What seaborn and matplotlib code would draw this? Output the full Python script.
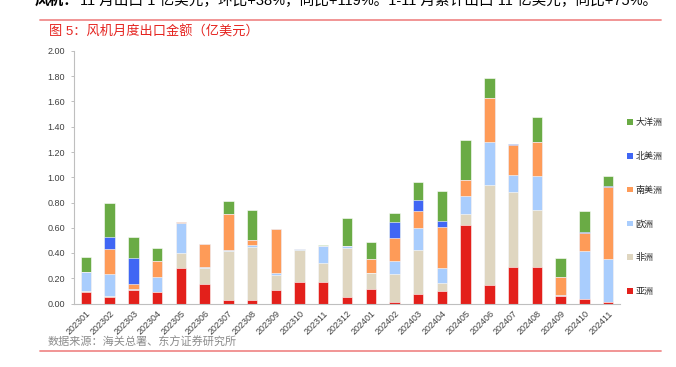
import numpy as np
import pandas as pd
import seaborn as sns
import matplotlib.pyplot as plt
from matplotlib.patches import Patch

months = ['202301', '202302', '202303', '202304', '202305', '202306', '202307', '202308',
          '202309', '202310', '202311', '202312', '202401', '202402', '202403', '202404',
          '202405', '202406', '202407', '202408', '202409', '202410', '202411']

# values in 亿美元
asia = [0.095, 0.055, 0.105, 0.090, 0.278, 0.155, 0.025, 0.030, 0.105, 0.173, 0.170, 0.055,
        0.115, 0.008, 0.073, 0.102, 0.620, 0.150, 0.287, 0.287, 0.060, 0.037, 0.013]
africa = [0.005, 0.005, 0.005, 0.0, 0.120, 0.128, 0.390, 0.420, 0.120, 0.250, 0.152, 0.385,
          0.127, 0.228, 0.350, 0.058, 0.092, 0.786, 0.596, 0.454, 0.0, 0.0, 0.0]
europe = [0.150, 0.175, 0.005, 0.117, 0.243, 0.010, 0.005, 0.010, 0.020, 0.012, 0.130, 0.015,
          0.0, 0.100, 0.175, 0.123, 0.142, 0.347, 0.134, 0.271, 0.006, 0.381, 0.339]
s_america = [0.0, 0.195, 0.040, 0.130, 0.005, 0.175, 0.285, 0.045, 0.345, 0.0, 0.0, 0.0,
             0.113, 0.184, 0.132, 0.323, 0.121, 0.347, 0.242, 0.268, 0.144, 0.139, 0.571]
n_america = [0.0, 0.095, 0.205, 0.0, 0.0, 0.0, 0.0, 0.0, 0.0, 0.0, 0.0, 0.0,
             0.0, 0.128, 0.086, 0.050, 0.0, 0.0, 0.008, 0.0, 0.0, 0.006, 0.008]
oceania = [0.115, 0.270, 0.170, 0.105, 0.0, 0.0, 0.110, 0.235, 0.0, 0.0, 0.008, 0.225,
           0.130, 0.072, 0.144, 0.236, 0.324, 0.155, 0.0, 0.195, 0.150, 0.173, 0.081]

regions = ['亚洲', '非洲', '欧洲', '南美洲', '北美洲', '大洋洲']
colors = ['#e3201b', '#dfd6c0', '#a9cdfd', '#fe9b58', '#4066f4', '#6aab45']

df = pd.DataFrame({'month': months, '亚洲': asia, '非洲': africa, '欧洲': europe,
                   '南美洲': s_america, '北美洲': n_america, '大洋洲': oceania})
cum = df[regions].cumsum(axis=1)
cum['month'] = months

sns.set_style('white')
plt.rcParams['font.family'] = ['Liberation Sans', 'Noto Sans CJK SC', 'DejaVu Sans']

fig = plt.figure(figsize=(6.76, 3.67), dpi=100)
ax = fig.add_axes([74 / 676, 1 - 303.5 / 367, 546 / 676, 252.5 / 367])

# stacked bars: draw cumulative totals from the top segment down
for reg, col in reversed(list(zip(regions, colors))):
    sns.barplot(data=cum, x='month', y=reg, color=col, width=0.44,
                edgecolor='white', linewidth=0.4, saturation=1, ax=ax)

ax.set_ylim(0, 2.0)
ax.set_xlim(-0.5, len(months) - 0.5)
ax.set_yticks(np.arange(0, 2.01, 0.2))
ax.set_yticklabels([f'{v:.2f}' for v in np.arange(0, 2.01, 0.2)], fontsize=6.5, color='#404040')
ax.set_xticks(range(len(months)))
ax.set_xticklabels(months, rotation=45, ha='right', rotation_mode='anchor', fontsize=6.5, color='#404040')
ax.set_xticks(np.arange(-0.5, len(months), 1), minor=True)
ax.tick_params(axis='x', which='major', length=0, pad=4)
ax.tick_params(axis='x', which='minor', length=3, color='#bfbfbf', width=0.7)
ax.tick_params(axis='y', length=2.5, color='#bfbfbf', width=0.7, pad=4, left=True)
ax.set_xlabel('')
ax.set_ylabel('')
for side in ['top', 'right']:
    ax.spines[side].set_visible(False)
for side in ['left', 'bottom']:
    ax.spines[side].set_color('#bfbfbf')
    ax.spines[side].set_linewidth(0.8)

handles = [Patch(facecolor=c, edgecolor='none') for c in reversed(colors)]
fig.legend(handles, list(reversed(regions)), loc='upper left',
           bbox_to_anchor=(619 / 676, 1 - 110 / 367), frameon=False, fontsize=6.5,
           handlelength=0.6, handleheight=0.6, handletextpad=0.35, labelspacing=2.75)

# header / footer text
fig.text(35 / 676, 1 - 1 / 367, '风机：', fontsize=10.5, fontweight='bold', va='center', color='black')
fig.text(80 / 676, 1 - 1 / 367, '11 月出口 1 亿美元，环比+38%，同比+119%。1-11 月累计出口 11 亿美元，同比+75%。',
         fontsize=10.5, va='center', color='black')
fig.add_artist(plt.Line2D([40 / 676, 661 / 676], [1 - 19.5 / 367] * 2, color='#f08c8c', lw=1.3))
fig.text(49 / 676, 1 - 32 / 367, '图 5：风机月度出口金额（亿美元）', fontsize=9.5, color='#e52420', va='center')
fig.text(48 / 676, 1 - 342 / 367, '数据来源：海关总署、东方证券研究所', fontsize=8, color='#8c8c8c', va='center')
fig.add_artist(plt.Line2D([40 / 676, 661 / 676], [1 - 351 / 367] * 2, color='#f08c8c', lw=1.3))

fig.savefig('out.png', dpi=100)
